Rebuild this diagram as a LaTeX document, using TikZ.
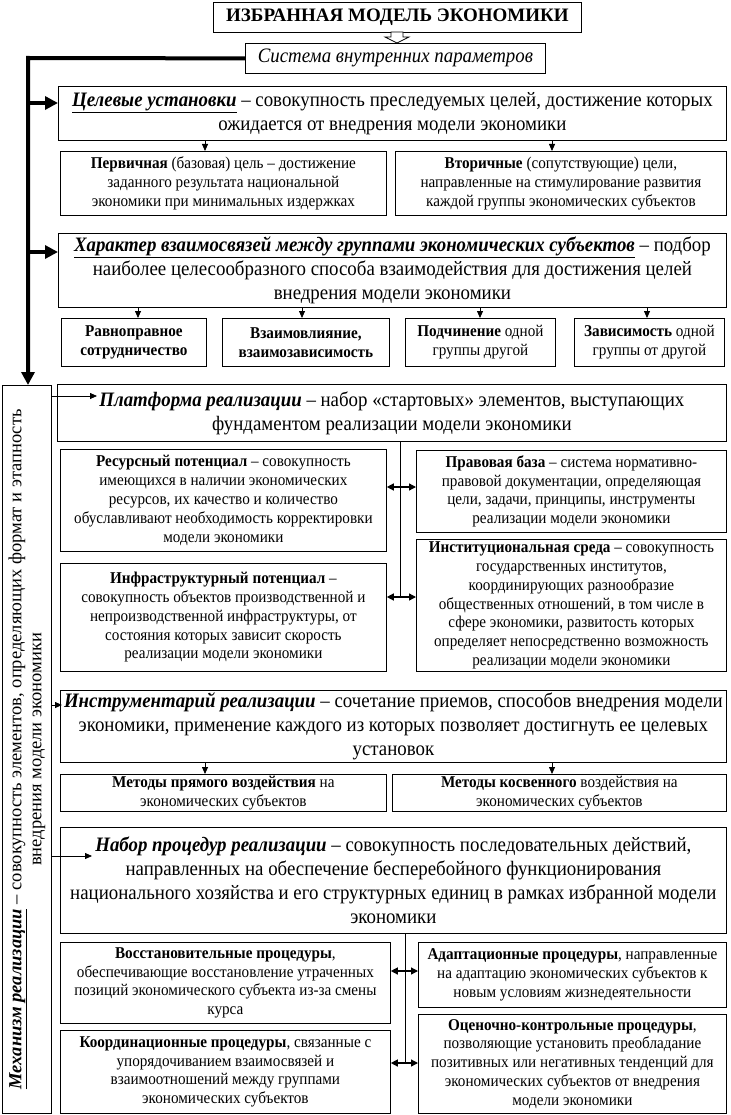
\documentclass[tikz,border=0pt]{standalone}
\usepackage{fontspec}
\setmainfont{Liberation Serif}[FakeStretch=0.92]
\newfontfamily\plainserif{Liberation Serif}
\usetikzlibrary{arrows.meta,calc}
\newcommand\fhd{\fontsize{20.5}{24}\selectfont}
\newcommand\fsm{\fontsize{16.5}{18.8}\selectfont}
\newcommand\fvt{\plainserif\fontsize{18.5}{20}\selectfont}
\newcommand\fti{\plainserif\fontsize{19}{23}\selectfont}
\newcommand\bxnode[7]{%
 \pgfmathsetmacro\bw{#4-#2}\pgfmathsetmacro\bh{#5-#3}%
 \node[bx,font=#6,minimum width=\bw pt,minimum height=\bh pt] (#1) at (#2,#3) {#7};}
\begin{document}
\begin{tikzpicture}[x=1pt,y=-1pt,
 bx/.style={draw,line width=0.8pt,anchor=north west,align=center,inner xsep=2pt,inner ysep=1pt},
 arr/.style={line width=0.8pt,-{Triangle[length=7pt,width=6pt]}},
 darr/.style={line width=1.3pt,{Triangle[length=7pt,width=7pt]}-{Triangle[length=7pt,width=7pt]}},
 thkarr/.style={line width=4pt,line join=miter,-{Triangle[length=13pt,width=13pt]}}]
\useasboundingbox (0,0) rectangle (730,1115);
\fill[white] (0,0) rectangle (730,1115);
% top
\bxnode{title}{213}{2}{581}{32}{\fti\bfseries}{ИЗБРАННАЯ МОДЕЛЬ ЭКОНОМИКИ}
\bxnode{sys}{245}{43}{545}{73}{\fhd\itshape}{Система внутренних параметров}
\draw[line width=0.7pt,fill=white] (391,32) -- (403,32) -- (403,37) -- (409,37) -- (397,43) -- (385,37) -- (391,37) -- cycle;
% goal
\bxnode{cel}{58}{86}{726}{140}{\fhd}{\underline{\textbf{\textit{Целевые установки}}} – совокупность преследуемых целей, достижение которых\\ ожидается от внедрения модели экономики}
\bxnode{perv}{60}{151}{386}{215}{\fsm}{\textbf{Первичная} (базовая) цель – достижение\\ заданного результата национальной\\ экономики при минимальных издержках}
\bxnode{vtor}{395}{151}{726}{215}{\fsm}{\textbf{Вторичные} (сопутствующие) цели,\\ направленные на стимулирование развития\\ каждой группы экономических субъектов}
\draw[arr] (cel.south -| 205,0) -- (perv.north -| 205,0);
\draw[arr] (cel.south -| 552,0) -- (vtor.north -| 552,0);
% character
\bxnode{har}{58}{233}{726}{307}{\fhd}{\underline{\textbf{\textit{Характер взаимосвязей между группами экономических субъектов}}} – подбор\\ наиболее целесообразного способа взаимодействия для достижения целей\\ внедрения модели экономики}
\bxnode{h1}{61}{318}{206}{366}{\fsm\bfseries}{Равноправное\\ сотрудничество}
\bxnode{h2}{222}{318}{389}{366}{\fsm\bfseries}{Взаимовлияние,\\ взаимозависимость}
\bxnode{h3}{405}{318}{555}{366}{\fsm}{\textbf{Подчинение} одной\\ группы другой}
\bxnode{h4}{574}{318}{724}{366}{\fsm}{\textbf{Зависимость} одной\\ группы от другой}
\draw[arr] (har.south -| 138,0) -- (h1.north -| 138,0);
\draw[arr] (har.south -| 302,0) -- (h2.north -| 302,0);
\draw[arr] (har.south -| 480,0) -- (h3.north -| 480,0);
\draw[arr] (har.south -| 647,0) -- (h4.north -| 647,0);
% left mechanism box
\node[draw,line width=0.8pt,anchor=north west,minimum width=49pt,minimum height=728pt,inner sep=0pt] (lft) at (2,385) {};
\node[rotate=90,font=\fvt,align=center,inner sep=0pt] (lfttxt) at (lft.center) {\underline{\textbf{\textit{Механизм реализации}}} – совокупность элементов, определяющих формат и этапность\\ внедрения модели экономики};
% thick bus
\coordinate (corner) at (28,58);
\draw[thkarr] (sys.west) -- (corner) -- (lft.north -| corner);
\draw[thkarr] (28,103) -- (cel.west |- 0,103);
\draw[thkarr] (28,252) -- (har.west |- 0,252);
% platform
\bxnode{plat}{57}{384}{726}{441}{\fhd}{\textbf{\textit{Платформа реализации}} – набор «стартовых» элементов, выступающих\\ фундаментом реализации модели экономики}
\bxnode{res}{60}{449}{386}{551}{\fsm}{\textbf{Ресурсный потенциал} – совокупность\\ имеющихся в наличии экономических\\ ресурсов, их качество и количество\\ обуславливают необходимость корректировки\\ модели экономики}
\bxnode{prav}{416}{450}{726}{532}{\fsm}{\textbf{Правовая база} – система нормативно-\\правовой документации, определяющая\\ цели, задачи, принципы, инструменты\\ реализации модели экономики}
\bxnode{infr}{60}{563}{386}{671}{\fsm}{\textbf{Инфраструктурный потенциал} –\\ совокупность объектов производственной и\\ непроизводственной инфраструктуры, от\\ состояния которых зависит скорость\\ реализации модели экономики}
\bxnode{inst}{416}{539}{726}{671}{\fsm}{\textbf{Институциональная среда} – совокупность\\ государственных институтов,\\ координирующих разнообразие\\ общественных отношений, в том числе в\\ сфере экономики, развитость которых\\ определяет непосредственно возможность\\ реализации модели экономики}
\coordinate (pv) at (400,597);
\draw[line width=0.8pt] (plat.south -| pv) -- (pv);
\draw[darr] (res.east |- 0,487) -- (prav.west |- 0,487);
\draw[darr] (infr.east |- 0,597) -- (inst.west |- 0,597);
\draw[arr] (lft.east |- 0,396) -- (97,396);
% instruments
\bxnode{instr}{60}{690}{726}{762}{\fhd}{\textbf{\textit{Инструментарий реализации}} – сочетание приемов, способов внедрения модели\\ экономики, применение каждого из которых позволяет достигнуть ее целевых\\ установок}
\bxnode{m1}{60}{774}{386}{811}{\fsm}{\textbf{Методы прямого воздействия} на\\ экономических субъектов}
\bxnode{m2}{392}{774}{726}{811}{\fsm}{\textbf{Методы косвенного} воздействия на\\ экономических субъектов}
\draw[arr] (instr.south -| 205,0) -- (m1.north -| 205,0);
\draw[arr] (instr.south -| 552,0) -- (m2.north -| 552,0);
\draw[arr] (lft.east |- 0,705) -- (62,705);
% procedures
\bxnode{nab}{60}{827}{726}{933}{\fhd}{\textbf{\textit{Набор процедур реализации}} – совокупность последовательных действий,\\ направленных на обеспечение бесперебойного функционирования\\ национального хозяйства и его структурных единиц в рамках избранной модели\\ экономики}
\bxnode{vos}{60}{942}{390}{1023}{\fsm}{\textbf{Восстановительные процедуры},\\ обеспечивающие восстановление утраченных\\ позиций экономического субъекта из-за смены\\ курса}
\bxnode{adp}{418}{942}{726}{1007}{\fsm}{\textbf{Адаптационные процедуры}, направленные\\ на адаптацию экономических субъектов к\\ новым условиям жизнедеятельности}
\bxnode{koo}{60}{1030}{390}{1113}{\fsm}{\textbf{Координационные процедуры}, связанные с\\ упорядочиванием взаимосвязей и\\ взаимоотношений между группами\\ экономических субъектов}
\bxnode{ocn}{418}{1014}{726}{1113}{\fsm}{\textbf{Оценочно-контрольные процедуры},\\ позволяющие установить преобладание\\ позитивных или негативных тенденций для\\ экономических субъектов от внедрения\\ модели экономики}
\coordinate (nv) at (405,1063);
\draw[line width=0.8pt] (nab.south -| nv) -- (nv);
\draw[darr] (vos.east |- 0,971) -- (adp.west |- 0,971);
\draw[darr] (koo.east |- 0,1063) -- (ocn.west |- 0,1063);
\draw[arr] (lft.east |- 0,856) -- (92,856);
\end{tikzpicture}
\end{document}
